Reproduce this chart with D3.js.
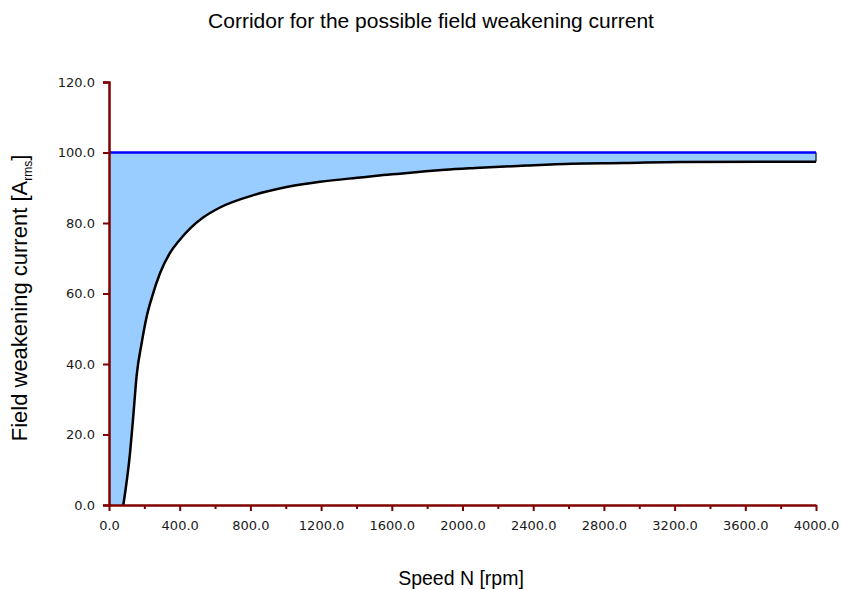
<!DOCTYPE html>
<html>
<head>
<meta charset="utf-8">
<script src="https://cdn.jsdelivr.net/npm/d3@7"></script>
<style>
  body { margin: 0; background: #fff; }
  svg { display: block; }
</style>
</head>
<body>
<div class="chart"></div>
<script>
(function () {
  'use strict';

  // speed [rpm] and lower limit of the field weakening current [A rms]
  var speed = [81, 119, 137, 157, 185, 213, 241, 289, 345, 400, 458, 534, 628, 817,
    1005, 1194, 1439, 1514, 1646, 1778, 1901, 2071, 2363, 2618, 2910, 3230, 4000];
  var current = [0, 14.8, 25, 37, 46, 53.4, 58.6, 65.8, 71.5, 75.2, 78.4, 81.6, 84.4, 87.9,
    90.2, 91.7, 93.0, 93.4, 94.0, 94.6, 95.1, 95.6, 96.3, 96.8, 97.0, 97.3, 97.4];
  var maxCurrent = 100;
  var xTicks = d3.range(0, 4001, 200);
  var yTicks = [0, 20, 40, 60, 80, 100, 120];

  var w = 841;
  var h = 590;
  var svg = d3.select(".chart").append("svg").attr("width", w).attr("height", h);

  var x = d3.scaleLinear().domain([0, 4000]).range([109, 816]);
  var y = d3.scaleLinear().domain([0, 120]).range([505, 82]);

  var pts = speed.map(function (s, i) { return { s: s, c: current[i] }; });
  var areaPts = [{ s: 0, c: 0 }].concat(pts);

  var area = d3.area()
    .x(function (d) { return x(d.s); })
    .y0(function (d) { return y(d.c); })
    .y1(function () { return y(maxCurrent); })
    .curve(d3.curveMonotoneX);

  svg.append("path").datum(areaPts).attr("d", area)
    .style("fill", "#99ccff").style("stroke", "none");

  // right edge of the corridor
  var last = pts[pts.length - 1];
  svg.append("line")
    .attr("x1", x(last.s)).attr("x2", x(last.s))
    .attr("y1", y(maxCurrent)).attr("y2", y(last.c))
    .style("stroke", "#333").style("stroke-width", 1.5);

  var line = d3.line()
    .x(function (d) { return x(d.s); })
    .y(function (d) { return y(d.c); })
    .curve(d3.curveMonotoneX);

  svg.append("path").datum(pts).attr("d", line)
    .style("fill", "none").style("stroke", "#000").style("stroke-width", 2.5);

  svg.append("line")
    .attr("x1", x(0)).attr("x2", x(4000))
    .attr("y1", y(maxCurrent)).attr("y2", y(maxCurrent))
    .style("stroke", "#0000ff").style("stroke-width", 2.5);

  // axes
  var xAxis = d3.axisBottom(x).tickValues(xTicks).tickSizeOuter(0).tickPadding(10)
    .tickFormat(function (d) { return d % 400 === 0 ? d3.format(".1f")(d) : ""; });
  var gx = svg.append("g").attr("transform", "translate(0," + y(0) + ")").call(xAxis);
  gx.selectAll(".tick line").attr("y2", function (d) { return d % 400 === 0 ? 6 : 4; });

  var yAxis = d3.axisLeft(y).tickValues(yTicks).tickSizeOuter(0).tickSize(6).tickPadding(8)
    .tickFormat(d3.format(".1f"));
  var gy = svg.append("g").attr("transform", "translate(" + x(0) + ",0)").call(yAxis);

  [gx, gy].forEach(function (g) {
    g.select(".domain").style("stroke", "#800000").style("stroke-width", 2.5);
    g.selectAll(".tick line").style("stroke", "#800000").style("stroke-width", 2);
    g.selectAll(".tick text").style("font-family", "DejaVu Sans").style("font-size", "13px")
      .style("fill", "#1a1a1a");
  });

  // titles
  svg.append("text").attr("x", 431).attr("y", 28).attr("text-anchor", "middle")
    .style("font-family", "Liberation Sans, Arial").style("font-size", "21px")
    .text("Corridor for the possible field weakening current");

  svg.append("text").attr("x", 461).attr("y", 585).attr("text-anchor", "middle")
    .style("font-family", "Liberation Sans, Arial").style("font-size", "19.5px")
    .text("Speed N [rpm]");

  var yl = svg.append("text").attr("transform", "translate(27,298) rotate(-90)")
    .attr("text-anchor", "middle")
    .style("font-family", "Liberation Sans, Arial").style("font-size", "22px");
  yl.append("tspan").text("Field weakening current [A");
  yl.append("tspan").attr("dy", 5).style("font-size", "12px").text("rms");
  yl.append("tspan").attr("dy", -5).text("]");
})();
</script>
</body>
</html>
